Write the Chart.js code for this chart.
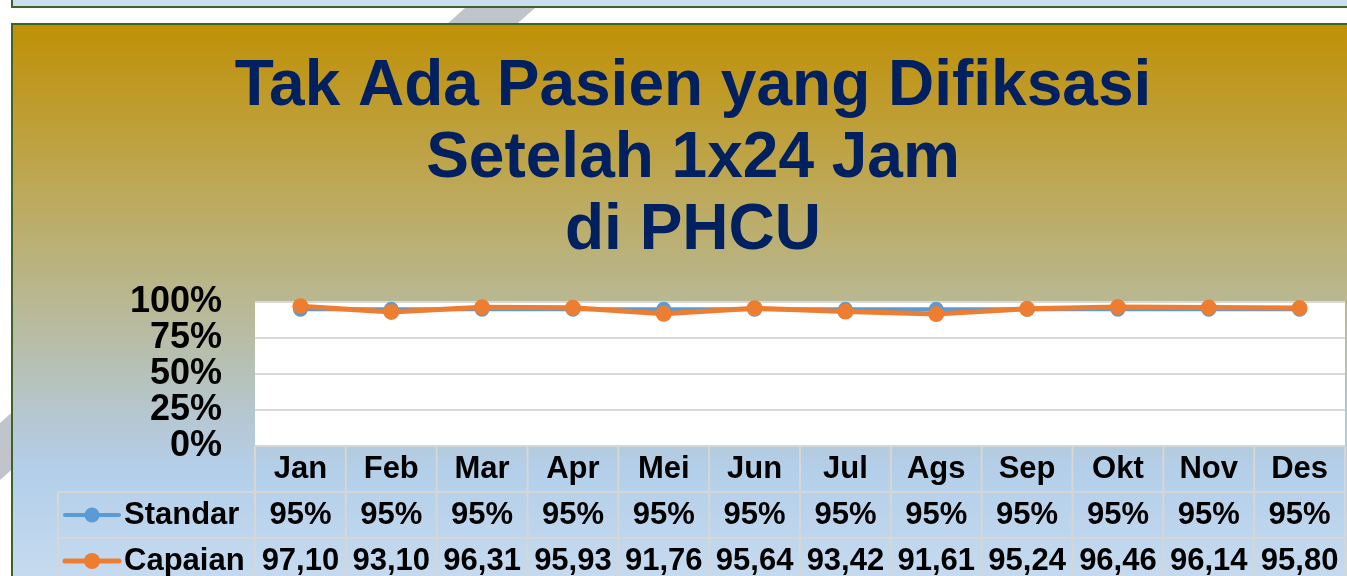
<!DOCTYPE html>
<html>
<head>
<meta charset="utf-8">
<title>Tak Ada Pasien yang Difiksasi</title>
<script src="https://cdn.jsdelivr.net/npm/chart.js@4.4.1/dist/chart.umd.min.js"></script>
<style>
    html, body {
        margin: 0;
        padding: 0;
        width: 1347px;
        height: 576px;
        overflow: hidden;
        background: #ffffff;
    }
    /* decorative slide pieces behind the chart box */
    #stripe {
        position: absolute;
        left: 0;
        top: 0;
        width: 600px;
        height: 576px;
        background: #c0c5cc;
        clip-path: polygon(465px 8px, 535px 8px, 0 480px, 0 423px);
    }
    #topStrip {
        position: absolute;
        left: 11px;
        top: 0;
        width: 1400px;
        height: 6px;
        background: #cadef0;
        border-left: 2px solid #3f6229;
        border-bottom: 2px solid #3f6229;
    }
    #box {
        position: absolute;
        left: 11px;
        top: 23px;
        width: 1400px;
        height: 620px;
        border-left: 2px solid #3f6229;
        border-top: 2px solid #3f6229;
    }
    #box canvas {
        position: absolute;
        left: 0;
        top: 0;
    }
</style>
</head>
<body>
<div id="stripe"></div>
<div id="topStrip"></div>
<div id="box">
    <canvas id="fiksasi" width="1360" height="600"></canvas>
</div>

<script>
// Data
const months = ['Jan', 'Feb', 'Mar', 'Apr', 'Mei', 'Jun', 'Jul', 'Ags', 'Sep', 'Okt', 'Nov', 'Des'];
const standar = [95, 95, 95, 95, 95, 95, 95, 95, 95, 95, 95, 95];
const capaian = [97.10, 93.10, 96.31, 95.93, 91.76, 95.64, 93.42, 91.61, 95.24, 96.46, 96.14, 95.80];
const yTickLabels = ['0%', '25%', '50%', '75%', '100%'];

const FONT = "'Liberation Sans', Arial, Helvetica, sans-serif";

// Background gradient of the chart box + white plot area
const backgroundPlugin = {
    id: 'slideBackground',
    beforeDraw: function(chart) {
        const ctx = chart.ctx;
        const h = chart.height;
        const g = ctx.createLinearGradient(0, 0, 0, h);
        g.addColorStop(0, '#c09006');
        g.addColorStop(0.222, '#bea448');
        g.addColorStop(0.388, '#bab27c');
        g.addColorStop(0.5, '#b8bb9e');
        g.addColorStop(0.667, '#b5c8d6');
        g.addColorStop(0.742, '#b3cfe9');
        g.addColorStop(0.918, '#c5daef');
        g.addColorStop(1, '#cadef0');
        ctx.save();
        ctx.fillStyle = g;
        ctx.fillRect(0, 0, chart.width, h);
        const a = chart.chartArea;
        ctx.fillStyle = '#ffffff';
        ctx.fillRect(a.left, a.top, a.right - a.left, a.bottom - a.top);
        ctx.restore();
    }
};

// Excel-like data table under the plot
const dataTablePlugin = {
    id: 'dataTable',
    afterDraw: function(chart) {
        const ctx = chart.ctx;
        const area = chart.chartArea;
        const x = chart.scales.x;
        const colW = x.getPixelForValue(1) - x.getPixelForValue(0);
        const rowH = 46;
        const top = area.bottom;
        const legendLeft = 45;

        ctx.save();
        ctx.strokeStyle = '#d6d6d6';
        ctx.lineWidth = 2;
        ctx.beginPath();
        ctx.moveTo(area.left, top);
        ctx.lineTo(area.right, top);
        for (let r = 1; r <= 3; r++) {
            ctx.moveTo(legendLeft, top + r * rowH);
            ctx.lineTo(area.right, top + r * rowH);
        }
        for (let i = 0; i <= months.length; i++) {
            const xb = area.left + i * colW;
            ctx.moveTo(xb, top);
            ctx.lineTo(xb, top + 3 * rowH);
        }
        ctx.moveTo(legendLeft, top + rowH);
        ctx.lineTo(legendLeft, top + 3 * rowH);
        ctx.stroke();

        ctx.fillStyle = '#000000';
        ctx.font = 'bold 31px ' + FONT;
        ctx.textAlign = 'center';
        ctx.textBaseline = 'middle';
        months.forEach(function(m, i) {
            ctx.fillText(m, x.getPixelForValue(i), top + rowH / 2);
        });

        const rows = [
            { ds: chart.data.datasets[1], fmt: function(v) { return v + '%'; } },
            { ds: chart.data.datasets[0], fmt: function(v) { return v.toFixed(2).replace('.', ','); } }
        ];
        rows.forEach(function(row, r) {
            const cy = top + rowH * (r + 1) + rowH / 2;
            ctx.textAlign = 'center';
            row.ds.data.forEach(function(v, i) {
                ctx.fillText(row.fmt(v), x.getPixelForValue(i), cy);
            });

            // legend key
            ctx.strokeStyle = row.ds.borderColor;
            ctx.lineWidth = row.ds.borderWidth;
            ctx.lineCap = 'round';
            ctx.beginPath();
            ctx.moveTo(52, cy);
            ctx.lineTo(106, cy);
            ctx.stroke();
            ctx.fillStyle = row.ds.pointBackgroundColor;
            ctx.beginPath();
            ctx.arc(79, cy, row.ds.pointRadius, 0, Math.PI * 2);
            ctx.fill();

            ctx.fillStyle = '#000000';
            ctx.textAlign = 'left';
            ctx.fillText(row.ds.label, 111, cy);
        });
        ctx.restore();
    }
};

const ctx = document.getElementById('fiksasi');

const fiksasiChart = new Chart(ctx, {
    type: 'line',
    data: {
        labels: months,
        datasets: [
            {
                label: 'Capaian',
                data: capaian,
                borderColor: '#ed7d31',
                backgroundColor: '#ed7d31',
                pointBackgroundColor: '#ed7d31',
                pointBorderColor: '#ed7d31',
                borderWidth: 5,
                pointRadius: 8,
                pointBorderWidth: 0,
                order: 0,
                clip: false
            },
            {
                label: 'Standar',
                data: standar,
                borderColor: '#5b9bd5',
                backgroundColor: '#5b9bd5',
                pointBackgroundColor: '#5b9bd5',
                pointBorderColor: '#5b9bd5',
                borderWidth: 4,
                pointRadius: 7.5,
                pointBorderWidth: 0,
                order: 1,
                clip: false
            }
        ]
    },
    options: {
        responsive: false,
        animation: false,
        layout: {
            padding: { top: 0, left: 28, right: 28, bottom: 179 }
        },
        plugins: {
            legend: { display: false },
            tooltip: { enabled: false },
            title: {
                display: true,
                text: ['Tak Ada Pasien yang Difiksasi', 'Setelah 1x24 Jam', 'di PHCU'],
                color: '#002060',
                font: { family: FONT, size: 64, weight: 'bold', lineHeight: 72 / 64 },
                padding: { top: 26, bottom: 35 }
            }
        },
        scales: {
            x: {
                type: 'category',
                display: false,
                offset: true
            },
            y: {
                min: 0,
                max: 100,
                afterFit: function(scale) { scale.width = 214; },
                border: { display: false },
                grid: {
                    color: '#d9d9d9',
                    lineWidth: 2,
                    drawTicks: false
                },
                ticks: {
                    stepSize: 25,
                    autoSkip: false,
                    padding: 33,
                    color: '#000000',
                    font: { family: FONT, size: 36, weight: 'bold', lineHeight: 1 },
                    callback: function(value, index) { return yTickLabels[index]; }
                }
            }
        }
    },
    plugins: [backgroundPlugin, dataTablePlugin]
});
</script>
</body>
</html>
